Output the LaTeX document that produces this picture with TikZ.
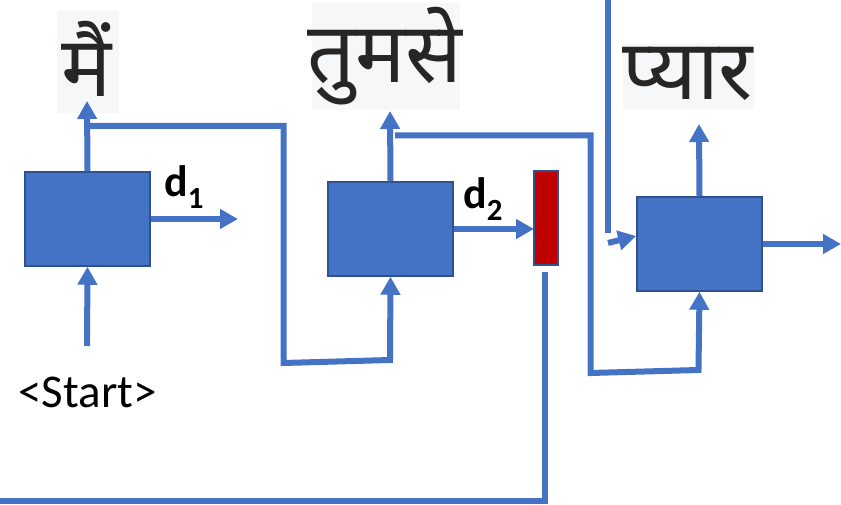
\documentclass[tikz,border=0pt]{standalone}
\usepackage{fontspec}
\setmainfont{Carlito}
\newfontfamily\hindi[Script=Devanagari]{Noto Sans}
\usetikzlibrary{arrows.meta}
\definecolor{cblue}{HTML}{4472C4}
\definecolor{cedge}{HTML}{2F528F}
\definecolor{cred}{HTML}{C00000}
\definecolor{cbg}{HTML}{F6F7F9}
\definecolor{cword}{HTML}{262626}
\tikzset{
  cell/.style={draw=cedge, line width=1.5pt, fill=cblue, minimum width=125pt, minimum height=94pt, inner sep=0pt},
  redbar/.style={draw=cedge, line width=1.5pt, fill=cred, minimum width=24pt, minimum height=94pt, inner sep=0pt},
  wordbg/.style={fill=cbg, inner sep=0pt},
  word/.style={font=\hindi\fontsize{84}{86}\selectfont, text=cword, inner sep=0pt, anchor=base},
  conn/.style={cblue, line width=6pt},
  arr/.style={conn, -{Triangle[width=19pt,length=18pt]}},
  dlab/.style={font=\fontsize{44}{46}\selectfont\bfseries, inner sep=0pt, anchor=base west},
}
\begin{document}
\begin{tikzpicture}[x=1pt,y=-1pt]
\useasboundingbox (0,0) rectangle (841,505);
% label backgrounds
\node[wordbg, minimum width=62pt, minimum height=102pt] (w1) at (88,62) {};
\node[wordbg, minimum width=148pt, minimum height=107pt] (w2) at (386,56.5) {};
\node[wordbg, minimum width=131pt, minimum height=67pt] (w3) at (688.5,76.5) {};
\node[word] (t1) at (87,97) {मैं};
\node[word] (t2) at (385,83) {तुमसे};
\node[word] (t3) at (688,100) {प्यार};
% cells
\node[cell] (b1) at (87.5,219) {};
\node[cell] (b2) at (390.5,229) {};
\node[cell] (b3) at (699.5,244) {};
\node[redbar] (rb) at (546,218) {};
% texts
\node[font=\fontsize{47}{50}\selectfont, inner sep=0pt] (start) at (87.5,392) {<Start>};
\node[dlab] (d1) at (164,197) {d\textsubscript{1}};
\node[dlab] (d2) at (463,209) {d\textsubscript{2}};
% coordinates
\coordinate (s0) at (87,346);
\coordinate (e1) at (238,219);
\coordinate (e3) at (841,244);
\coordinate (f1a) at (87,126);
\coordinate (f1b) at (283.5,126);
\coordinate (f1c) at (283.5,363);
\coordinate (f1d) at (390,360);
\coordinate (f2a) at (395,135.5);
\coordinate (f2b) at (590.5,135.5);
\coordinate (f2c) at (590.5,373);
\coordinate (f2d) at (698.5,370);
\coordinate (r1) at (544.5,272);
\coordinate (r2) at (544.5,501);
\coordinate (r3) at (0,501);
\coordinate (v1) at (608,0);
\coordinate (v2) at (608,233);
\coordinate (a1) at (608,243);
\coordinate (u1) at (87,101);
\coordinate (u2) at (390,111);
\coordinate (u3) at (699,124);
\coordinate (rin) at (534,229);
% arrows
\draw[arr] (s0) -- (b1.south);
\draw[arr] (b1.north) -- (u1);
\draw[arr] (b1.east) -- (e1);
\draw[arr] (b2.east) -- (rin);
\draw[arr] (b2.north) -- (u2);
\draw[arr] (b3.north) -- (u3);
\draw[arr] (b3.east) -- (e3);
\draw[arr, line join=miter] (f1a) -- (f1b) -- (f1c) -- (f1d) -- (b2.south);
\draw[arr, line join=miter] (f2a) -- (f2b) -- (f2c) -- (f2d) -- (b3.south);
\draw[conn, line join=miter] (r1) -- (r2) -- (r3);
\draw[conn] (v1) -- (v2);
\draw[arr] (a1) -- ([yshift=8pt]b3.west);
\end{tikzpicture}
\end{document}
